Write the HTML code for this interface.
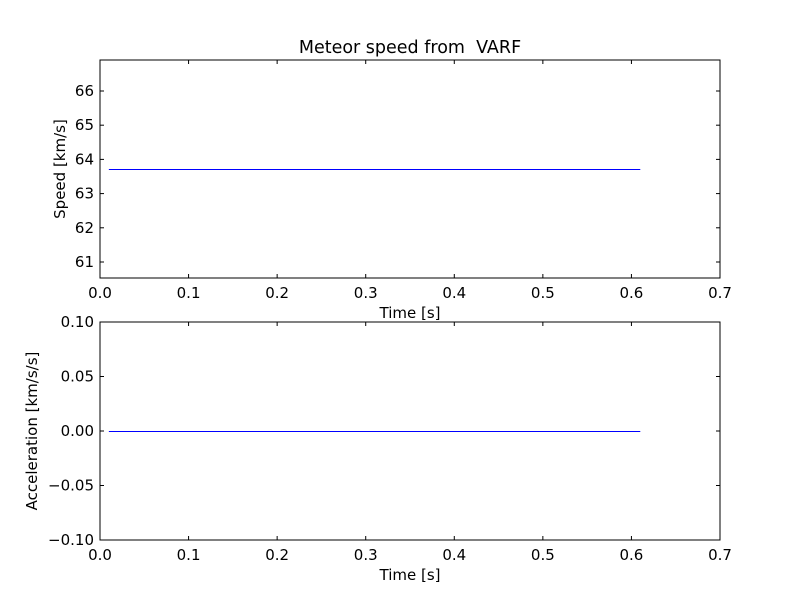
<!DOCTYPE html>
<html><head><meta charset="utf-8"><style>
body{margin:0;background:#fff;}
svg text{font-family:"DejaVu Sans","Liberation Sans",sans-serif;font-size:15px;fill:#000;white-space:pre;}
</style></head><body>
<svg id="c" width="800" height="600" xmlns="http://www.w3.org/2000/svg">
<rect width="800" height="600" fill="#fff"/>
<text x="410" y="53" text-anchor="middle" xml:space="preserve" style="font-size:17.5px">Meteor speed from  VARF</text>
</svg>
<script>
const xTicks=[0.0,0.1,0.2,0.3,0.4,0.5,0.6,0.7];
const speedTicks=[61,62,63,64,65,66];
const accTicks=[-0.10,-0.05,0.00,0.05,0.10];
const timeVals=[0.01,0.61];
const speedVals=[63.73,63.73];
const accVals=[0.0,0.0];
const NS="http://www.w3.org/2000/svg";
const svg=document.getElementById('c');
function mk(t,a){const e=document.createElementNS(NS,t);for(const k in a)e.setAttribute(k,a[k]);svg.appendChild(e);return e;}
const X0=100,X1=720;
const xs=v=>X0+(v-0)/(0.7-0)*(X1-X0);
function panel(name,top,bot,ymin,ymax,yTicks,yfmt,ylabel,ylx,yvals){
  const ys=v=>bot-(v-ymin)/(ymax-ymin)*(bot-top);
  let p=mk('polyline',{points:timeVals.map((t,i)=>xs(t)+','+(Math.round(ys(yvals[i]))+0.5)).join(' '),fill:'none',stroke:'#0000ff','stroke-width':1});
  
  
  let r=mk('rect',{x:X0,y:top,width:X1-X0,height:bot-top,fill:'none',stroke:'#000','stroke-width':1});
  
  
  xTicks.forEach(t=>{const x=xs(t);
    mk('line',{x1:x,x2:x,y1:bot,y2:bot-4,stroke:'#000'});
    mk('line',{x1:x,x2:x,y1:top,y2:top+4,stroke:'#000'});
    let tx=mk('text',{x:x,y:bot+20,'text-anchor':'middle'});tx.textContent=t.toFixed(1);
    
    
  });
  yTicks.forEach(t=>{const y=ys(t);
    mk('line',{x1:X0,x2:X0+4,y1:y,y2:y,stroke:'#000'});
    mk('line',{x1:X1,x2:X1-4,y1:y,y2:y,stroke:'#000'});
    let tx=mk('text',{x:X0-6,y:y+5,'text-anchor':'end'});tx.textContent=yfmt(t);
    
    
  });
  let xl=mk('text',{x:410,y:bot+40,'text-anchor':'middle'});xl.textContent='Time [s]';
  
  
  let yl=mk('text',{x:ylx,y:(top+bot)/2,'text-anchor':'middle',transform:'rotate(-90 '+ylx+' '+(top+bot)/2+')'});yl.textContent=ylabel;
  
  
}
panel('speed',60,278,60.532,66.906,speedTicks,v=>String(v),'Speed [km/s]',65,speedVals);
panel('acceleration',322,540,-0.1,0.1,accTicks,v=>(v<0?'\u2212':'')+Math.abs(v).toFixed(2),'Acceleration [km/s/s]',37,accVals);
</script>
</body></html>
